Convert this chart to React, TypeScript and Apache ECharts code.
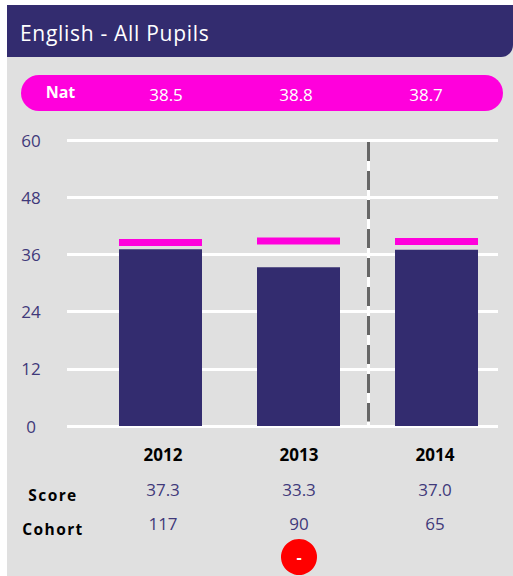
import React, { useEffect, useRef } from "react";
import * as echarts from "echarts";

const years = ["2012", "2013", "2014"];
const barValues = [37.1, 33.3, 37.0];
const natValues = [38.5, 38.8, 38.7];
const natLabels = ["38.5", "38.8", "38.7"];
const scoreLabels = ["37.3", "33.3", "37.0"];
const cohortLabels = ["117", "90", "65"];
const yTicks = { min: 0, max: 60, interval: 12 };
const titleText = "English - All Pupils";
const navy = "#332C6F";
const labelNavy = "#40397A";
const magenta = "#FF00DC";
const font = "'Open Sans'";

const natX = [166, 296, 426];
const rowX = [163, 299, 435];

export default function App() {
  const ref = useRef<HTMLDivElement>(null);
  useEffect(() => {
    const chart = echarts.init(ref.current!, undefined, { renderer: "svg" });
    const top = 140;
    const bottom = 576 - 426;
    const rowText = (t: string, x: number, y: number) => ({
      type: "text", x, y,
      style: { text: t, fill: labelNavy, font: `17px ${font}`, align: "center", verticalAlign: "middle" },
    });
    const rowHead = (t: string, x: number, y: number) => ({
      type: "text", x, y,
      style: { text: t, fill: "#000", font: `bold 15.5px ${font}`, align: "center", verticalAlign: "middle" },
    });
    chart.setOption({
      animation: false,
      backgroundColor: "#fff",
      grid: [
        { left: 67, width: 431, top, bottom },
        { left: 91.5, width: 414, top, bottom },
        { left: 95, width: 408, top, bottom },
      ],
      xAxis: [
        { gridIndex: 0, type: "category", data: years, axisLine: { show: false }, axisTick: { show: false }, axisLabel: { show: false } },
        { gridIndex: 1, type: "category", data: years, axisLine: { show: false }, axisTick: { show: false }, axisLabel: { show: false } },
        {
          gridIndex: 2, type: "category", data: years, axisLine: { show: false }, axisTick: { show: false },
          axisLabel: { color: "#000", fontFamily: "Open Sans", fontWeight: "bold", fontSize: 17, margin: 20 },
        },
      ],
      yAxis: [
        {
          gridIndex: 0, type: "value", ...yTicks,
          axisLine: { show: false }, axisTick: { show: false },
          axisLabel: { color: labelNavy, fontFamily: "Open Sans", fontSize: 17, align: "center", margin: 36 },
          splitLine: { show: true, lineStyle: { color: "#fff", width: 3 } },
        },
        { gridIndex: 1, type: "value", ...yTicks, show: false },
        { gridIndex: 2, type: "value", ...yTicks, show: false },
      ],
      series: [
        { type: "bar", xAxisIndex: 1, yAxisIndex: 1, data: barValues, barWidth: 83, itemStyle: { color: navy }, z: 3 },
        { type: "scatter", xAxisIndex: 1, yAxisIndex: 1, data: natValues, symbol: "rect", symbolSize: [83, 7], itemStyle: { color: magenta, opacity: 1 }, z: 4 },
      ],
      graphic: [
        { type: "rect", z: -10, shape: { x: 7, y: 5, width: 506, height: 571 }, style: { fill: "#E0E0E0" } },
        { type: "rect", z: -9, shape: { x: 7, y: 5, width: 506, height: 52, r: [0, 0, 12, 0] }, style: { fill: navy } },
        { type: "text", x: 20, y: 33, style: { text: titleText, fill: "#fff", font: `21px ${font}`, verticalAlign: "middle" } },
        { type: "rect", z: -8, shape: { x: 21, y: 75, width: 482, height: 36, r: 18 }, style: { fill: magenta } },
        { type: "text", x: 60.5, y: 92, style: { text: "Nat", fill: "#fff", font: `bold 16px ${font}`, align: "center", verticalAlign: "middle" } },
        ...natLabels.map((t, i) => ({ type: "text", x: natX[i], y: 94, style: { text: t, fill: "#fff", font: `17px ${font}`, align: "center", verticalAlign: "middle" } })),
        { type: "line", shape: { x1: 368.5, y1: 142, x2: 368.5, y2: 426 }, style: { stroke: "#fff", lineWidth: 3 } },
        { type: "line", shape: { x1: 368.5, y1: 142, x2: 368.5, y2: 421.5 }, style: { stroke: "#666666", lineWidth: 3, lineDash: [19, 10] } },
        rowHead("Score", 53, 495),
        rowHead("Cohort", 53, 529),
        ...scoreLabels.map((t, i) => rowText(t, rowX[i], 489.5)),
        ...cohortLabels.map((t, i) => rowText(t, rowX[i], 523.5)),
        { type: "circle", shape: { cx: 299, cy: 557, r: 18 }, style: { fill: "#FF0000" } },
        { type: "text", x: 299, y: 557, style: { text: "-", fill: "#fff", font: `bold 16px ${font}`, align: "center", verticalAlign: "middle" } },
      ],
    });
    return () => chart.dispose();
  }, []);
  return (
    <div style={{ position: "fixed", left: 0, top: 0, width: 513, height: 576 }}>
      <style>{`text[style*="bold 15.5px"]{letter-spacing:1.4px} text[style*="21px"]{letter-spacing:.7px}`}</style>
      <div ref={ref} style={{ width: 513, height: 576 }} />
    </div>
  );
}
